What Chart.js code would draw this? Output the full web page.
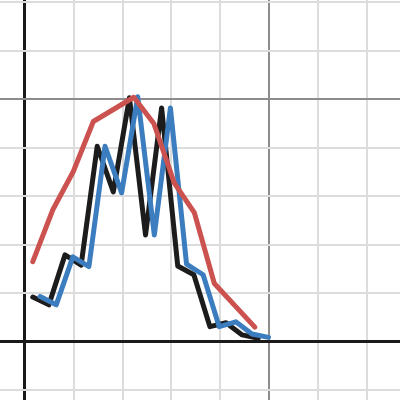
<!DOCTYPE html>
<html>
<head>
<meta charset="utf-8">
<script src="https://cdn.jsdelivr.net/npm/chart.js@4"></script>
<style>
  html, body { margin: 0; padding: 0; background: #fff; }
  #graph { display: block; }
</style>
</head>
<body>
<canvas id="graph" width="400" height="400"></canvas>
<script>
// values (grid units)
const blackX = [0.16, 0.49, 0.82, 1.15, 1.48, 1.81, 2.14, 2.47, 2.80, 3.13, 3.46, 3.79, 4.12, 4.45, 4.78];
const blackY = [0.92, 0.76, 1.79, 1.58, 4.03, 3.09, 5.03, 2.20, 4.82, 1.56, 1.38, 0.31, 0.39, 0.14, 0.07];

const blueX = [0.31, 0.64, 0.98, 1.31, 1.64, 1.98, 2.31, 2.65, 2.98, 3.31, 3.65, 3.98, 4.32, 4.65, 4.99];
const blueY = [0.93, 0.76, 1.75, 1.55, 4.03, 3.07, 5.05, 2.20, 4.82, 1.60, 1.38, 0.31, 0.41, 0.16, 0.09];

const redX = [0.16, 0.57, 0.99, 1.40, 2.23, 2.64, 3.06, 3.47, 3.88, 4.71];
const redY = [1.65, 2.72, 3.51, 4.54, 5.04, 4.50, 3.27, 2.66, 1.20, 0.30];

function pts(xs, ys) {
    return xs.map((x, i) => ({x: x, y: ys[i]}));
}

function gridColor(ctx) {
    const v = ctx.tick.value;
    if (v === 0) return '#1a1a1a';
    if (v % 5 === 0) return '#8c8c8c';
    return '#dcdcdc';
}

function gridWidth(ctx) {
    return ctx.tick.value === 0 ? 3 : 2;
}

const line = {
    showLine: true,
    pointRadius: 0,
    borderWidth: 5,
    fill: false,
    tension: 0,
    borderCapStyle: 'round',
    borderJoinStyle: 'round'
};

new Chart(document.getElementById("graph"), {
    type: 'scatter',
    data: {
        datasets: [
            {...line, label: 'red', data: pts(redX, redY), borderColor: '#cc5250'},
            {...line, label: 'blue', data: pts(blueX, blueY), borderColor: '#3b7dbf'},
            {...line, label: 'black', data: pts(blackX, blackY), borderColor: '#1c1c1c'}
        ]
    },
    options: {
        responsive: false,
        animation: false,
        layout: {padding: 0},
        plugins: {legend: {display: false}, tooltip: {enabled: false}},
        scales: {
            x: {
                type: 'linear',
                min: -0.512,
                max: 7.684,
                ticks: {display: false, stepSize: 1, includeBounds: false},
                grid: {color: gridColor, lineWidth: gridWidth, drawTicks: false},
                border: {display: false}
            },
            y: {
                type: 'linear',
                min: -1.202,
                max: 7.045,
                ticks: {display: false, stepSize: 1, includeBounds: false},
                grid: {color: gridColor, lineWidth: gridWidth, drawTicks: false},
                border: {display: false}
            }
        }
    }
});
</script>
</body>
</html>
